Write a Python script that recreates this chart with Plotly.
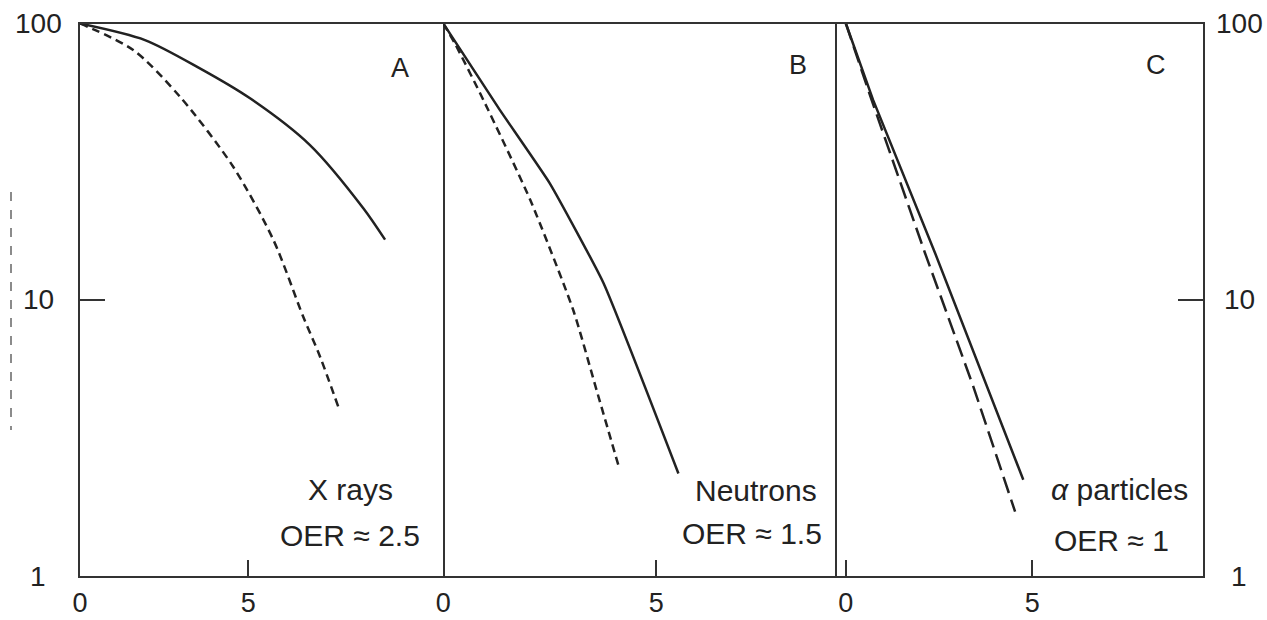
import numpy as np
import plotly.graph_objects as go

# ---- data (dose, % survival) ----
xray_air_dose = [0, 1.93, 3.56, 5.05, 6.83, 8.42, 9.06]
xray_air_surv = [100, 87.1, 68.8, 53.6, 36.3, 21.4, 16.5]
xray_hyp_dose = [0, 1.58, 2.97, 4.55, 5.74, 6.63, 7.13, 7.67]
xray_hyp_surv = [100, 80.2, 54.3, 30.3, 16.5, 8.68, 6.22, 4.10]

neut_air_dose = [0, 1.33, 2.50, 3.76, 5.52]
neut_air_surv = [100, 48.6, 26.4, 11.5, 2.35]
neut_hyp_dose = [0, 0.27, 0.94, 2.04, 3.05, 3.60, 4.11]
neut_hyp_surv = [100, 84.8, 52.9, 23.0, 9.18, 4.7, 2.52]

alpha_air_dose = [0, 0.73, 2.39, 4.76]
alpha_air_surv = [100, 52.9, 14.8, 2.23]
alpha_hyp_dose = [0, 0.69, 2.12, 3.42, 4.54]
alpha_hyp_surv = [100, 52.9, 14.8, 4.85, 1.71]

panel_letters = ["A", "B", "C"]
radiation_names = ["X rays", "Neutrons", "<i>α</i> particles"]
oer_labels = ["OER ≈ 2.5", "OER ≈ 1.5", "OER ≈ 1"]
x_tick_vals = [0, 5]
x_tick_text = ["0", "5"]
y_tick_vals = [1, 10, 100]
y_tick_text = ["1", "10", "100"]

W, H = 1267, 620
FONT = "Liberation Sans, Arial, sans-serif"
INK = "#222222"
AX = "#333333"

def px(x):
    return x / W

def py(y):
    return 1 - y / H

fig = go.Figure()

line_solid = dict(color=INK, width=2.5)
line_short = dict(color=INK, width=2.5, dash="8px,5px")
line_long = dict(color=INK, width=2.5, dash="17px,7px")

fig.add_trace(go.Scatter(x=xray_air_dose, y=xray_air_surv, mode="lines", line=dict(line_solid, shape="spline", smoothing=0.8), xaxis="x", yaxis="y"))
fig.add_trace(go.Scatter(x=xray_hyp_dose, y=xray_hyp_surv, mode="lines", line=dict(line_short, shape="spline", smoothing=0.8), xaxis="x", yaxis="y"))
fig.add_trace(go.Scatter(x=neut_air_dose, y=neut_air_surv, mode="lines", line=dict(line_solid, shape="spline", smoothing=0.4), xaxis="x2", yaxis="y2"))
fig.add_trace(go.Scatter(x=neut_hyp_dose, y=neut_hyp_surv, mode="lines", line=dict(line_short, shape="spline", smoothing=0.6), xaxis="x2", yaxis="y2"))
fig.add_trace(go.Scatter(x=alpha_air_dose, y=alpha_air_surv, mode="lines", line=line_solid, xaxis="x3", yaxis="y3"))
fig.add_trace(go.Scatter(x=alpha_hyp_dose, y=alpha_hyp_surv, mode="lines", line=line_long, xaxis="x3", yaxis="y3"))

ydom = [py(576), py(23.5)]
xdoms = [[px(80), px(443.3)], [px(443.3), px(837.3)], [px(837.3), px(1203.3)]]
xranges = [[0, 10.79], [0, 9.25], [-0.23, 9.59]]

common_x = dict(showline=True, linecolor=AX, linewidth=2, mirror=True, showgrid=False,
                zeroline=False, ticks="inside", ticklen=16, tickwidth=2, tickcolor=AX,
                tickvals=x_tick_vals, ticktext=x_tick_text,
                tickfont=dict(family=FONT, size=27, color=INK), ticklabelstandoff=2)
common_y = dict(type="log", range=[0, 2], domain=ydom, linecolor=AX,
                linewidth=2, mirror=True, showgrid=False, zeroline=False,
                showticklabels=False)

layout = dict(
    width=W, height=H,
    margin=dict(l=0, r=0, t=0, b=0, autoexpand=False),
    paper_bgcolor="white", plot_bgcolor="white",
    showlegend=False,
)
for suf, dom, rng in zip(["", "2", "3"], xdoms, xranges):
    layout["xaxis" + suf] = dict(common_x, domain=dom, range=rng, anchor="y" + suf)

layout["yaxis"] = dict(common_y, anchor="x", showline=True, ticks="inside", tickvals=[10],
                       ticklen=25, tickwidth=2, tickcolor=AX)
layout["yaxis2"] = dict(common_y, anchor="x2", showline=False, ticks="")
layout["yaxis3"] = dict(common_y, anchor="x3", showline=True, side="right", ticks="inside",
                        tickvals=[10], ticklen=25, tickwidth=2, tickcolor=AX)
fig.update_layout(**layout)

ann = []
# centered y tick labels on both sides (positioned via the y axes' log scale)
for v, t in zip(y_tick_vals, y_tick_text):
    ann.append(dict(x=px(38), xref="paper", y=np.log10(v), yref="y", text=t, showarrow=False,
                    xanchor="center", yanchor="middle", font=dict(family=FONT, size=28, color=INK)))
    ann.append(dict(x=px(1239), xref="paper", y=np.log10(v), yref="y3", text=t, showarrow=False,
                    xanchor="center", yanchor="middle", font=dict(family=FONT, size=28, color=INK)))

letter_pos = [(400, 68), (798, 65), (1156, 65)]
name_pos = [(350, 489), (756, 490), (1119, 489)]
oer_pos = [(350, 535), (752, 533), (1111, 540)]
for lt, (x, y) in zip(panel_letters, letter_pos):
    ann.append(dict(x=px(x), y=py(y), xref="paper", yref="paper", text=lt, showarrow=False,
                    xanchor="center", yanchor="middle", font=dict(family=FONT, size=27, color=INK)))
for t, (x, y) in zip(radiation_names, name_pos):
    ann.append(dict(x=px(x), y=py(y), xref="paper", yref="paper", text=t, showarrow=False,
                    xanchor="center", yanchor="middle", font=dict(family=FONT, size=30, color=INK)))
for t, (x, y) in zip(oer_labels, oer_pos):
    ann.append(dict(x=px(x), y=py(y), xref="paper", yref="paper", text=t, showarrow=False,
                    xanchor="center", yanchor="middle", font=dict(family=FONT, size=30, color=INK)))
fig.update_layout(annotations=ann)

# faint cropped remnant at far left
fig.add_shape(type="line", xref="paper", yref="paper", x0=px(11), x1=px(11), y0=py(192), y1=py(430),
              line=dict(color="#666666", width=1.5, dash="dash"))

# remove the default 8px page margin so the figure fills the 1267x620 window exactly
fig.write_html("out.html", config={"displayModeBar": False},
               post_script="document.body.style.margin='0';document.body.style.overflow='hidden';")
